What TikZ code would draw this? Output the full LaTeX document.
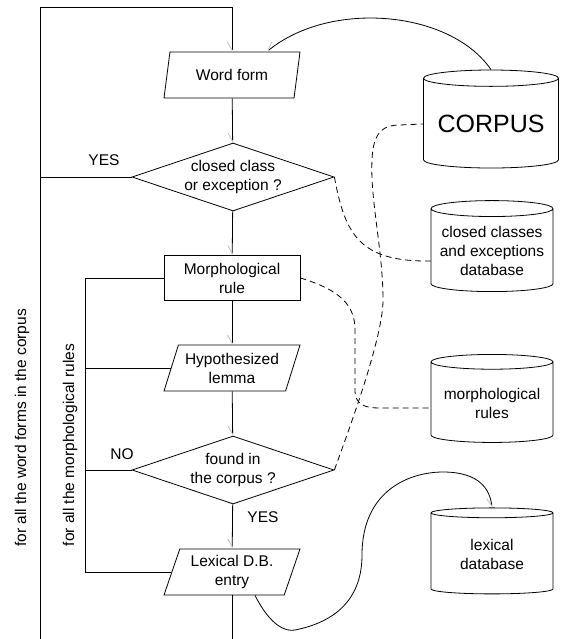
\documentclass[tikz,border=0pt]{standalone}
\usepackage{fontspec}
\setmainfont{Liberation Sans}
\usetikzlibrary{shapes.geometric,arrows.meta,calc}

\begin{document}
\begin{tikzpicture}[x=1pt,y=-1pt,line width=0.8pt,
  every node/.style={font=\fontsize{15.5}{19}\selectfont, align=center},
  io/.style={draw, trapezium, trapezium left angle=66, trapezium right angle=114,
    trapezium stretches body, minimum width=136pt, minimum height=46pt, inner sep=1pt},
  proc/.style={draw, rectangle, minimum width=136pt, minimum height=45pt, inner sep=1pt},
  test/.style={draw, diamond, aspect=3, minimum width=202pt, minimum height=68pt, inner sep=0pt},
  db/.style={draw, cylinder, shape border rotate=90, aspect=0.15, inner sep=1pt},
  arr/.style={-{Straight Barb[gray!50,length=8pt,width=9pt,right]}},
  link/.style={dashed, dash pattern=on 6pt off 4pt}]

\useasboundingbox (0,0) rectangle (563,639);

  % Define the positions of the corners
  \coordinate (top) at (232,7);
  \coordinate (bot) at (232,639);
  \coordinate (tl) at (40,7);
  \coordinate (bl) at (40,639);
  \coordinate (il) at (85,278);

  % Draw the flowchart nodes
  \node[io] (word) at (232,75) {Word form};
  \node[test] (closed) at (233,177) {closed class\\or exception ?};
  \node[proc] (morph) at (232,278) {Morphological\\rule};
  \node[io] (lemma) at (232,368) {Hypothesized\\lemma};
  \node[test] (found) at (233,470) {found in\\the corpus ?};
  \node[io] (entry) at (232,572) {Lexical D.B.\\entry};

  % Draw the databases
  \node[db, minimum width=135pt, minimum height=98pt, font=\fontsize{25}{29}\selectfont] (corpus) at (491,124) {CORPUS};
  \node[db, minimum width=122pt, minimum height=91pt] (ccdb) at (492,251) {closed classes\\and exceptions\\database};
  \node[db, minimum width=122pt, minimum height=88pt] (mrdb) at (492,403) {morphological\\rules};
  \node[db, minimum width=122pt, minimum height=86pt] (lxdb) at (492,554) {lexical\\database};

  % Draw the main flow
  \draw (bl) -- (tl) -- (top);
  \draw[arr] (top) -- (word);
  \draw[arr] (word) -- (closed);
  \draw[arr] (closed) -- (morph);
  \draw[arr] (morph) -- (lemma);
  \draw[arr] (lemma) -- (found);
  \draw[arr] (found) -- (entry);
  \draw (entry) -- (bot);

  % Draw the loops
  \draw (closed.west) -- (closed.west -| tl);
  \draw (morph.west) -- (il) -- (il |- entry.west) -- (entry.west);
  \draw (lemma.west) -- (lemma.west -| il);
  \draw (found.west) -- (found.west -| il);

  % Labels
  \node at (104,160) {YES};
  \node at (122,454) {NO};
  \node at (263,517) {YES};
  \node[rotate=90] (outer) at (22,428) {for all the word forms in the corpus};
  \node[rotate=90] (inner) at (70,445) {for all the morphological rules};

  % Draw the links to the databases
  \draw[arr] (corpus.north) .. controls (450,10) and (330,0) .. ($(word.north)+(35,0)$);
  \draw[link] (closed.east) .. controls (345,235) and (360,262) .. ([yshift=-10pt]ccdb.west);
  \draw[link] (found.east) .. controls (345,440) and (383,340) .. (383,300)
    .. controls (383,250) and (370,200) .. (372,160)
    .. controls (373,130) and (385,125) .. (400,125) -- (corpus.west);
  \draw[link] (morph.east) .. controls (340,290) and (355,305) .. (355,330) -- (355,390)
    .. controls (355,405) and (365,408) .. (380,408) -- ([yshift=-5pt]mrdb.west);
  \draw[arr] ($(entry.south)+(23,0)$) .. controls (270,625) and (285,632) .. (295,630)
    .. controls (345,620) and (362,590) .. (362,555)
    .. controls (362,490) and (410,472) .. (443,472)
    .. controls (480,472) and (490,490) .. (lxdb.north);
\end{tikzpicture}
\end{document}
